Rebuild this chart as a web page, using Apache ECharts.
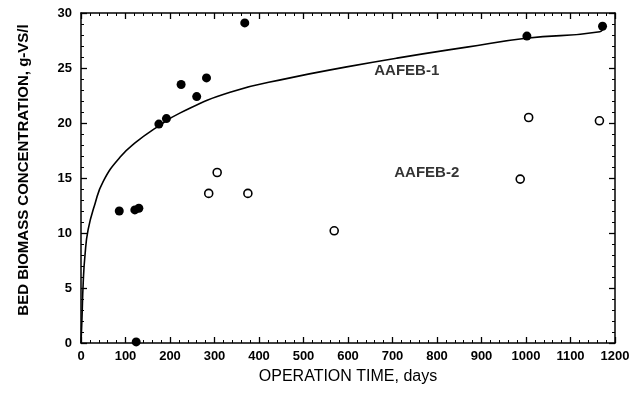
<!DOCTYPE html>
<html>
<head>
<meta charset="utf-8">
<script src="https://cdn.jsdelivr.net/npm/echarts@6/dist/echarts.min.js"></script>
<style>
  html, body { margin: 0; padding: 0; background: #fff; }
  #chart { width: 634px; height: 393px; }
</style>
</head>
<body>
<div id="chart"></div>
<script>
// AAFEB-1 (filled circles)
const reactor1Days = [86, 121, 130, 124, 175, 192, 225, 260, 282, 368, 1002, 1172];
const reactor1Biomass = [12.0, 12.1, 12.25, 0.1, 19.9, 20.4, 23.5, 22.4, 24.1, 29.1, 27.9, 28.8];

// AAFEB-2 (open circles)
const reactor2Days = [287, 306, 375, 569, 987, 1006, 1165];
const reactor2Biomass = [13.6, 15.5, 13.6, 10.2, 14.9, 20.5, 20.2];

// fitted curve
const curveDays = [0, 2, 5, 9, 16, 31, 50, 88, 125, 170, 222, 335, 470, 597, 710, 867, 1000, 1166, 1174];
const curveBiomass = [0, 2.0, 5.5, 8.0, 10.3, 12.6, 14.7, 16.9, 18.3, 19.6, 20.9, 22.8, 24.1, 25.1, 25.9, 26.9, 27.7, 28.3, 28.8];

// series labels placed in data units
const labelNames = ['AAFEB-1', 'AAFEB-2'];
const labelDays = [732, 777];
const labelBiomass = [24.75, 15.5];

const xTicks = { min: 0, max: 1200, interval: 100 };
const yTicks = { min: 0, max: 30, interval: 5 };

const zip = (xs, ys) => xs.map((x, i) => [x, ys[i]]);

const lineStyle = { color: '#000', width: 1.5 };
const tickFont = {
  color: '#000', fontFamily: 'Liberation Sans', fontWeight: 'bold', fontSize: 13,
  formatter: v => String(v)
};

function axis(base, extra) {
  return Object.assign({
    type: 'value',
    min: base.min,
    max: base.max,
    interval: base.interval,
    splitLine: { show: false },
    axisLine: { show: true, onZero: false, lineStyle: lineStyle },
    axisTick: { show: true, inside: true, length: 6, lineStyle: { color: '#000', width: 1.3 } },
    minorTick: { show: true, splitNumber: 5, length: 3, lineStyle: { color: '#000', width: 1 } }
  }, extra);
}

const chart = echarts.init(document.getElementById('chart'), null, { renderer: 'canvas' });

const option = {
  backgroundColor: '#fff',
  animation: false,
  grid: { left: 81, right: 19, top: 13, bottom: 50 },
  xAxis: [
    axis(xTicks, {
      position: 'bottom',
      axisLabel: Object.assign({ margin: 7 }, tickFont),
      name: 'OPERATION TIME, days',
      nameLocation: 'middle',
      nameGap: 26,
      nameTextStyle: { color: '#000', fontFamily: 'Liberation Sans', fontSize: 16 }
    }),
    axis(xTicks, { position: 'top', axisLabel: { show: false } })
  ],
  yAxis: [
    axis(yTicks, {
      position: 'left',
      axisLabel: Object.assign({ margin: 9 }, tickFont),
      name: 'BED BIOMASS CONCENTRATION, g-VS/l',
      nameLocation: 'middle',
      nameGap: 50,
      nameTextStyle: {
        color: '#000', fontFamily: 'Liberation Sans', fontWeight: 'bold', fontSize: 15,
        padding: [0, 0, 0, 16]
      }
    }),
    axis(yTicks, { position: 'right', axisLabel: { show: false } })
  ],
  series: [
    {
      type: 'line',
      data: zip(curveDays, curveBiomass),
      smooth: 0.5,
      symbol: 'none',
      lineStyle: { color: '#000', width: 1.6 }
    },
    {
      type: 'scatter',
      data: zip(reactor1Days, reactor1Biomass),
      symbol: 'circle',
      symbolSize: 9,
      itemStyle: { color: '#000', opacity: 1 }
    },
    {
      type: 'scatter',
      data: zip(reactor2Days, reactor2Biomass),
      symbol: 'circle',
      symbolSize: 8,
      itemStyle: { color: '#fff', borderColor: '#000', borderWidth: 1.6, opacity: 1 }
    },
    {
      type: 'scatter',
      data: labelNames.map((n, i) => ({ name: n, value: [labelDays[i], labelBiomass[i]] })),
      symbolSize: 0,
      silent: true,
      label: {
        show: true,
        position: 'inside',
        formatter: '{b}',
        color: '#000',
        fontFamily: 'Liberation Sans',
        fontWeight: 'bold',
        fontSize: 15
      }
    }
  ]
};

chart.setOption(option);
</script>
</body>
</html>
